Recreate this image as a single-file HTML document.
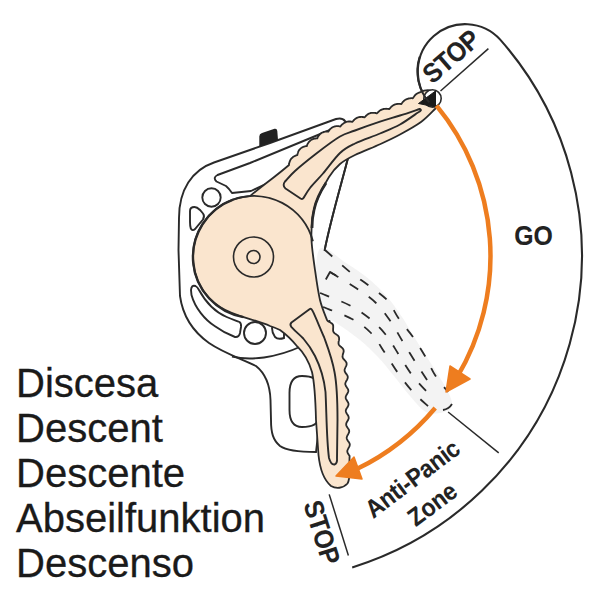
<!DOCTYPE html>
<html><head><meta charset="utf-8"><style>
html,body{margin:0;padding:0;background:#fff;width:600px;height:600px;overflow:hidden}
svg{display:block}
</style></head><body>
<svg width="600" height="600" viewBox="0 0 600 600">
<rect width="600" height="600" fill="#fff"/>
<path d="M429.2 102.4 A47.4 47.4 0 0 1 500.2 39.6 A326.5 326.5 0 0 1 352.2 567.4" fill="none" stroke="#2a2a2a" stroke-width="2.1"/>
<path d="M440.5 91.0 L488.4 48.6" stroke="#2a2a2a" stroke-width="1.5"/>
<path d="M448.1 412.0 L498.7 452.8" stroke="#2a2a2a" stroke-width="1.5"/>
<path d="M329.2 494.4 L348.4 555.5" stroke="#2a2a2a" stroke-width="1.5"/>
<path d="M214 162.5 L270 143 L336 119 C341 117.5 345 119 346.5 124 L348 158 C343 178 330 222 324.5 251 L330 330 L316 452 C300 452 287 451 280 446 C273 440 271 433 271 420 L270.5 400 C270 385 266 374 256 366 C245 360 225 354 209 343 C195 333 183 318 180 296 L178.5 250 L179 218 C179 190 192 170 214 162.5 Z" fill="#fff" stroke="#2a2a2a" stroke-width="1.9"/>
<path d="M330 130 L250 163 L217.5 175 Q212.5 177.5 216.5 181.5 L226 186 Q229 188.5 232 193 L251 191 L300 168 Z" fill="#fff" stroke="#2a2a2a" stroke-width="1.9" stroke-linejoin="round"/>
<circle cx="211.5" cy="197.5" r="9.2" fill="#fff" stroke="#2a2a2a" stroke-width="1.9"/>
<path d="M190 211 Q190 207 194.5 207 Q197 207 200 210 L203 213.5 Q205 216 203 219.5 L195 229 Q192.5 231.5 190.8 228.5 Q190 226 190 222 Z" fill="#fff" stroke="#2a2a2a" stroke-width="1.9"/>
<path d="M191 290 Q191.5 284.5 195.5 286 Q197.5 287 199 290 C205 301 215 312 226.7 317 C232 319.5 236 320.5 239.5 322 Q241.5 323.5 241 327 L240 333 Q239 337.5 235 337 C227 334 220 330 215 326.3 C205 320 195 308 191.5 295 Z" fill="#fff" stroke="#2a2a2a" stroke-width="1.9"/>
<circle cx="255" cy="333" r="11" fill="#fff" stroke="#2a2a2a" stroke-width="1.9"/>
<path d="M272 328 Q273 325 277 326 L284 330 L284 338 Q278 340 275 337 Q272 333 272 328 Z" fill="#fff" stroke="#2a2a2a" stroke-width="1.9"/>
<path d="M302 376 C312 376 318 379 318 386 L318 418 C318 424 312 427 302 427 C294 427 289.5 422 289.5 410 L289.5 393 C289.5 382 294 376 302 376 Z" fill="#fff" stroke="#2a2a2a" stroke-width="1.9"/>
<path d="M232 356.5 C250 361 276 358 302 346" fill="none" stroke="#2a2a2a" stroke-width="1.9"/>
<path d="M259.3 136.5 Q259.3 133.8 262 133 L274.5 128.8 Q277 128.2 277.3 131 L278 140 L259.3 146.5 Z" fill="#222"/>
<path d="M319.0 250.0 C323.7 241.8 337.5 258.0 346.0 263.0 C354.5 268.0 363.0 274.2 370.0 280.0 C377.0 285.8 382.7 291.8 388.0 298.0 C393.3 304.2 397.3 310.0 402.0 317.0 C406.7 324.0 410.2 330.7 416.0 340.0 C421.8 349.3 431.3 363.7 437.0 373.0 C442.7 382.3 447.7 390.2 450.0 396.0 C452.3 401.8 452.7 405.2 451.0 408.0 C449.3 410.8 444.2 412.3 440.0 413.0 C435.8 413.7 431.0 414.8 426.0 412.0 C421.0 409.2 415.3 402.0 410.0 396.0 C404.7 390.0 399.3 382.5 394.0 376.0 C388.7 369.5 383.7 363.0 378.0 357.0 C372.3 351.0 367.2 345.8 360.0 340.0 C352.8 334.2 342.0 326.7 335.0 322.0 C328.0 317.3 320.7 324.0 318.0 312.0 C315.3 300.0 314.3 258.2 319.0 250.0 Z" fill="#f3f3f3"/>
<path d="M325.0 250.0 C329.2 253.7 342.8 266.2 350.0 272.0 C357.2 277.8 361.8 280.3 368.0 285.0 C374.2 289.7 381.8 294.3 387.0 300.0 C392.2 305.7 394.7 312.8 399.0 319.0 C403.3 325.2 408.7 330.8 413.0 337.0 C417.3 343.2 421.3 349.7 425.0 356.0 C428.7 362.3 431.2 369.0 435.0 375.0 C438.8 381.0 445.8 389.2 448.0 392.0" fill="none" stroke="#2a2a2a" stroke-width="1.8" stroke-dasharray="10 13"/>
<path d="M330.0 272.0 C334.3 274.7 348.3 282.8 356.0 288.0 C363.7 293.2 370.2 297.3 376.0 303.0 C381.8 308.7 386.5 315.5 391.0 322.0 C395.5 328.5 398.8 335.2 403.0 342.0 C407.2 348.8 411.7 356.2 416.0 363.0 C420.3 369.8 426.8 379.7 429.0 383.0" fill="none" stroke="#2a2a2a" stroke-width="1.8" stroke-dasharray="10 13"/>
<path d="M320.0 293.0 C324.8 295.0 340.8 300.8 349.0 305.0 C357.2 309.2 362.8 313.0 369.0 318.0 C375.2 323.0 381.0 328.8 386.0 335.0 C391.0 341.2 394.7 348.3 399.0 355.0 C403.3 361.7 407.3 368.8 412.0 375.0 C416.7 381.2 424.5 389.2 427.0 392.0" fill="none" stroke="#2a2a2a" stroke-width="1.8" stroke-dasharray="10 13"/>
<path d="M323.0 307.0 C327.8 309.0 344.0 314.7 352.0 319.0 C360.0 323.3 365.5 327.3 371.0 333.0 C376.5 338.7 380.5 346.3 385.0 353.0 C389.5 359.7 393.3 366.5 398.0 373.0 C402.7 379.5 407.7 386.2 413.0 392.0 C418.3 397.8 427.2 405.3 430.0 408.0" fill="none" stroke="#2a2a2a" stroke-width="1.8" stroke-dasharray="10 13"/>
<path d="M443 410 Q449 409 452 404" fill="none" stroke="#2a2a2a" stroke-width="1.8"/>
<path d="M348 158 C343 178 330 222 324.5 251" fill="none" stroke="#2a2a2a" stroke-width="1.9"/>
<path d="M325.8 279.5 L330 272 L336 275.5" fill="none" stroke="#2a2a2a" stroke-width="1.8" stroke-linejoin="round"/>
<path d="M193 257 A61 61 0 0 1 250 196.1 C262 186 275 177 289 165 L289.0 165.0 L289.0 164.3 L289.1 163.8 L289.2 163.2 L289.4 162.7 L289.5 162.2 L289.7 161.7 L289.9 161.2 L290.1 160.7 L290.3 160.2 L290.5 159.8 L290.8 159.4 L291.1 158.9 L291.4 158.5 L291.8 158.2 L292.1 157.8 L292.5 157.5 L292.9 157.1 L293.3 156.8 L293.7 156.5 L294.2 156.3 L294.7 156.0 L295.2 155.8 L295.7 155.6 L296.2 155.4 L296.8 155.2 L297.4 155.1 L297.4 154.4 L297.6 153.8 L297.7 153.3 L297.9 152.8 L298.1 152.2 L298.3 151.7 L298.5 151.2 L298.7 150.8 L299.0 150.3 L299.3 149.9 L299.6 149.5 L300.0 149.1 L300.3 148.7 L300.7 148.4 L301.1 148.1 L301.6 147.8 L302.0 147.5 L302.5 147.2 L303.0 147.0 L303.5 146.8 L304.0 146.6 L304.5 146.5 L305.1 146.3 L305.6 146.2 L306.2 146.1 L306.8 146.1 L307.0 145.5 L307.2 144.9 L307.4 144.4 L307.6 143.9 L307.9 143.4 L308.2 143.0 L308.5 142.5 L308.8 142.1 L309.1 141.7 L309.5 141.3 L309.9 141.0 L310.3 140.6 L310.6 140.3 L311.1 140.0 L311.5 139.8 L312.0 139.5 L312.4 139.3 L312.9 139.1 L313.4 138.9 L313.9 138.8 L314.4 138.7 L315.0 138.5 L315.5 138.5 L316.1 138.4 L316.7 138.4 L317.3 138.4 L317.5 137.8 L317.7 137.2 L318.0 136.7 L318.3 136.3 L318.6 135.8 L318.9 135.4 L319.3 135.0 L319.6 134.6 L320.0 134.2 L320.4 133.8 L320.8 133.5 L321.2 133.2 L321.6 132.9 L322.0 132.7 L322.5 132.5 L323.0 132.3 L323.5 132.1 L324.0 131.9 L324.5 131.8 L325.0 131.7 L325.5 131.6 L326.1 131.6 L326.7 131.5 L327.2 131.5 L327.8 131.6 L328.4 131.6 L328.7 131.0 L329.0 130.5 L329.3 130.1 L329.7 129.6 L330.1 129.2 L330.4 128.8 L330.8 128.5 L331.3 128.1 L331.7 127.8 L332.1 127.5 L332.6 127.3 L333.0 127.0 L333.5 126.8 L334.0 126.7 L334.5 126.5 L335.0 126.4 L335.5 126.3 L336.0 126.2 L336.5 126.2 L337.0 126.1 L337.6 126.2 L338.1 126.2 L338.7 126.2 L339.3 126.3 L339.8 126.4 L340.4 126.5 L340.7 126.0 L341.1 125.5 L341.5 125.1 L341.9 124.7 L342.3 124.3 L342.6 124.0 L343.1 123.7 L343.5 123.4 L343.9 123.1 L344.3 122.8 L344.8 122.6 L345.2 122.4 L345.7 122.2 L346.1 122.0 L346.6 121.8 L347.1 121.7 L347.6 121.6 L348.1 121.6 L348.6 121.5 L349.2 121.5 L349.7 121.5 L350.3 121.5 L350.8 121.6 L351.4 121.6 L352.0 121.8 L352.5 121.8 L352.9 121.3 L353.2 120.8 L353.6 120.4 L354.0 120.0 L354.4 119.6 L354.8 119.3 L355.2 118.9 L355.6 118.6 L356.0 118.4 L356.5 118.1 L356.9 117.9 L357.4 117.7 L357.9 117.5 L358.3 117.3 L358.8 117.2 L359.3 117.1 L359.8 117.0 L360.3 117.0 L360.9 116.9 L361.4 116.9 L361.9 116.9 L362.5 117.0 L363.0 117.0 L363.6 117.1 L364.2 117.3 L364.7 117.3 L365.1 116.8 L365.5 116.4 L365.9 115.9 L366.3 115.5 L366.7 115.2 L367.1 114.8 L367.5 114.5 L367.9 114.2 L368.4 114.0 L368.8 113.7 L369.3 113.5 L369.8 113.3 L370.3 113.2 L370.7 113.0 L371.2 112.9 L371.7 112.8 L372.3 112.8 L372.8 112.8 L373.3 112.8 L373.8 112.8 L374.4 112.8 L374.9 112.9 L375.5 113.0 L376.0 113.1 L376.6 113.3 L377.1 113.3 L377.5 112.8 L377.9 112.4 L378.3 112.0 L378.7 111.6 L379.1 111.3 L379.5 110.9 L379.9 110.6 L380.4 110.3 L380.8 110.1 L381.2 109.8 L381.7 109.6 L382.1 109.4 L382.6 109.3 L383.1 109.1 L383.6 109.0 L384.1 108.9 L384.5 108.8 L385.1 108.8 L385.6 108.8 L386.1 108.7 L386.6 108.8 L387.2 108.8 L387.7 108.8 L388.3 108.9 L388.9 109.0 L389.4 109.0 L389.7 108.5 L390.1 108.1 L390.5 107.6 L390.8 107.2 L391.2 106.9 L391.6 106.5 L392.0 106.2 L392.4 105.8 L392.8 105.5 L393.3 105.3 L393.7 105.0 L394.1 104.8 L394.6 104.6 L395.1 104.4 L395.5 104.3 L396.0 104.2 L396.5 104.1 L397.0 104.0 L397.5 103.9 L398.1 103.9 L398.6 103.9 L399.1 103.9 L399.7 103.9 L400.3 103.9 L400.9 104.0 L401.4 104.0 L401.7 103.5 L402.0 103.0 L402.4 102.5 L402.7 102.1 L403.1 101.7 L403.5 101.3 L403.8 101.0 L404.2 100.6 L404.6 100.3 L405.0 100.0 L405.4 99.8 L405.9 99.5 L406.3 99.3 L406.8 99.1 L407.2 98.9 L407.7 98.8 L408.2 98.6 L408.7 98.5 L409.2 98.4 L409.7 98.3 L410.2 98.3 L410.8 98.2 L411.3 98.2 L411.9 98.2 L412.5 98.3 L413.0 98.2 L413.3 97.6 L413.6 97.1 L413.9 96.7 L414.2 96.2 L414.6 95.8 L414.9 95.4 L415.3 95.0 L415.6 94.7 L416.0 94.3 L416.4 94.0 L416.8 93.7 L417.3 93.4 L417.7 93.2 L418.1 93.0 L418.6 92.8 L419.1 92.6 L419.6 92.4 L420.1 92.3 C428 88 436 90 437 98 C438 103 437 107 435 109 C432.7 111.2 426.8 117.8 421.0 122.0 C415.2 126.2 406.8 130.8 400.0 134.5 C393.2 138.2 387.5 140.8 380.0 144.2 C372.5 147.6 361.7 151.7 355.0 155.0 C348.3 158.3 344.3 160.3 340.0 164.0 C335.7 167.7 332.8 171.0 329.0 177.0 C325.2 183.0 319.8 193.2 317.0 200.0 C314.2 206.8 313.4 211.3 312.5 218.0 C311.6 224.7 311.1 231.3 311.5 240.0 C311.9 248.7 313.6 260.0 315.0 270.0 C316.4 280.0 318.0 291.7 320.0 300.0 C322.0 308.3 325.8 316.7 327.0 320.0 L327.0 320.0 L327.3 320.4 L327.6 320.8 L328.0 321.2 L328.5 321.5 L329.0 321.8 L329.5 322.0 L330.0 322.3 L330.5 322.6 L331.0 322.9 L331.5 323.2 L331.9 323.5 L332.3 323.9 L332.6 324.3 L332.9 324.8 L333.0 325.2 L333.2 325.7 L333.2 326.3 L333.2 326.9 L333.2 327.5 L333.2 328.0 L333.1 328.6 L333.1 329.2 L333.1 329.8 L333.1 330.4 L333.1 330.9 L333.3 331.4 L333.5 331.9 L333.7 332.3 L334.0 332.7 L334.4 333.1 L334.8 333.4 L335.3 333.8 L335.8 334.1 L336.3 334.4 L336.8 334.7 L337.3 335.1 L337.7 335.4 L338.1 335.8 L338.4 336.2 L338.7 336.7 L338.9 337.1 L339.0 337.6 L339.1 338.2 L339.1 338.7 L339.1 339.3 L339.0 339.9 L338.9 340.5 L338.8 341.0 L338.6 341.6 L338.6 342.2 L338.5 342.8 L338.5 343.3 L338.6 343.8 L338.7 344.3 L338.9 344.7 L339.2 345.2 L339.6 345.6 L339.9 346.0 L340.4 346.4 L340.8 346.8 L341.3 347.1 L341.7 347.5 L342.2 347.9 L342.6 348.3 L342.9 348.7 L343.2 349.2 L343.4 349.6 L343.6 350.1 L343.6 350.6 L343.7 351.2 L343.6 351.7 L343.5 352.3 L343.3 352.8 L343.2 353.4 L343.0 354.0 L342.8 354.6 L342.7 355.1 L342.6 355.7 L342.5 356.2 L342.5 356.7 L342.6 357.2 L342.8 357.7 L343.0 358.1 L343.2 358.6 L343.6 359.0 L344.0 359.5 L344.4 359.9 L344.8 360.4 L345.2 360.8 L345.6 361.3 L345.9 361.7 L346.2 362.2 L346.4 362.7 L346.6 363.2 L346.6 363.7 L346.6 364.2 L346.6 364.7 L346.4 365.3 L346.2 365.8 L346.0 366.4 L345.7 366.9 L345.4 367.4 L345.2 368.0 L345.0 368.5 L344.8 369.0 L344.6 369.5 L344.6 370.0 L344.6 370.5 L344.6 371.0 L344.8 371.5 L345.0 372.0 L345.3 372.5 L345.6 373.0 L345.9 373.5 L346.3 373.9 L346.7 374.4 L347.0 374.9 L347.3 375.4 L347.5 375.9 L347.7 376.4 L347.8 376.9 L347.8 377.4 L347.7 377.9 L347.6 378.4 L347.4 378.9 L347.2 379.4 L346.9 380.0 L346.6 380.5 L346.3 381.0 L346.0 381.5 L345.8 382.0 L345.6 382.5 L345.4 383.0 L345.3 383.5 L345.3 384.0 L345.3 384.5 L345.5 385.0 L345.7 385.5 L345.9 386.0 L346.2 386.5 L346.6 387.0 L346.9 387.5 L347.2 388.0 L347.6 388.5 L347.8 388.9 L348.1 389.4 L348.2 389.9 L348.3 390.4 L348.3 390.9 L348.3 391.4 L348.1 392.0 L347.9 392.5 L347.7 393.0 L347.4 393.5 L347.1 394.0 L346.8 394.5 L346.5 395.0 L346.2 395.5 L346.0 396.0 L345.8 396.5 L345.7 397.0 L345.7 397.5 L345.7 398.0 L345.8 398.5 L346.0 399.0 L346.3 399.5 L346.6 400.0 L346.9 400.5 L347.2 401.0 L347.5 401.5 L347.8 402.0 L348.1 402.5 L348.3 403.0 L348.5 403.5 L348.5 404.0 L348.5 404.5 L348.5 405.0 L348.3 405.5 L348.1 406.0 L347.9 406.5 L347.6 407.0 L347.3 407.5 L346.9 408.0 L346.6 408.5 L346.4 409.0 L346.1 409.5 L345.9 410.0 L345.8 410.5 L345.8 411.0 L345.9 411.5 L346.0 412.0 L346.2 412.5 L346.4 413.0 L346.7 413.5 L347.0 414.0 L347.4 414.5 L347.7 415.0 L348.0 415.5 L348.3 416.0 L348.5 416.5 L348.6 417.0 L348.7 417.5 L348.7 418.0 L348.7 418.5 L348.5 419.0 L348.3 419.5 L348.1 420.0 L347.8 420.5 L347.5 421.0 L347.2 421.5 L346.9 422.0 L346.6 422.5 L346.4 423.0 L346.3 423.5 L346.2 424.0 L346.2 424.5 L346.2 425.0 L346.3 425.5 L346.5 426.0 L346.8 426.5 L347.1 427.0 L347.4 427.5 L347.8 428.0 L348.1 428.5 L348.4 428.9 L348.7 429.4 L348.9 429.9 L349.1 430.4 L349.2 430.9 L349.2 431.4 L349.2 431.9 L349.0 432.4 L348.8 432.9 L348.6 433.4 L348.3 433.9 L348.0 434.5 L347.7 435.0 L347.4 435.5 L347.2 436.0 L347.0 436.5 L346.8 437.0 L346.7 437.5 L346.7 438.0 L346.8 438.5 L346.9 439.0 L347.1 439.5 L347.4 440.0 L347.7 440.5 L348.0 441.0 L348.3 441.4 L348.7 441.9 L349.0 442.4 L349.3 442.9 L349.5 443.4 L349.7 443.9 L349.8 444.4 L349.8 444.9 L349.7 445.4 L349.6 445.9 L349.4 446.4 L349.2 446.9 L348.9 447.4 L348.6 447.9 L348.3 448.5 L348.0 449.0 L347.8 449.5 L347.6 450.0 L347.4 450.5 L347.3 451.0 L347.3 451.5 L347.4 452.0 L347.5 452.5 L347.7 453.0 L348.0 453.5 L348.3 454.0 L348.6 454.5 L348.9 454.9 L349.3 455.4 L349.6 455.9 C349 468 351 478 347.5 483.5 C343 488.5 336 489 331 486 C324 480 320 470 318.5 455 L316 420 C315.5 400 315 385 312 372 C309 362 304 353 297.5 346.7 C292 340 287 335 280 330 C276 328 273 327 270 326 C255 319 235 317 220 307 C205 297 193 280 193 257 Z" fill="#fae5ce" stroke="#2a2a2a" stroke-width="1.8" stroke-linejoin="round"/>
<path d="M233.1 199.7 A61 61 0 0 1 312.9 241.2" fill="none" stroke="#2a2a2a" stroke-width="1.9"/>
<path d="M326 183 C320 192 316 200 314 210 C312.5 216 312 222 312 228" fill="none" stroke="#2a2a2a" stroke-width="2.8"/>
<path d="M243.4 317.1 A61 61 0 0 1 233.1 199.7" fill="none" stroke="#2a2a2a" stroke-width="2.4"/>
<circle cx="253.5" cy="257" r="20" fill="none" stroke="#2a2a2a" stroke-width="1.6"/>
<circle cx="253.5" cy="257" r="6.5" fill="none" stroke="#2a2a2a" stroke-width="1.6"/>
<path d="M419.5 109.0 C416.2 110.1 406.6 113.4 400.0 115.5 C393.4 117.6 387.5 119.2 380.0 121.7 C372.5 124.2 361.7 128.0 355.0 130.5 C348.3 133.0 346.3 132.8 340.0 136.5 C333.7 140.2 324.5 147.2 317.0 153.0 C309.5 158.8 300.3 166.2 295.0 171.0 C289.7 175.8 286.7 179.8 285.0 181.5 Q282 185.5 285.5 188.5 L300.5 198.5 Q302.5 199.5 303.5 198 C304.6 196.3 306.8 192.1 310.0 188.0 C313.2 183.9 318.0 179.3 323.0 173.5 C328.0 167.7 334.7 158.0 340.0 153.0 C345.3 148.0 348.3 146.8 355.0 143.5 C361.7 140.2 372.5 136.7 380.0 133.5 C387.5 130.3 393.7 128.0 400.0 124.5 C406.3 121.0 415.0 114.5 418.0 112.5 Q423 110 419.5 109 Z" fill="none" stroke="#2a2a2a" stroke-width="1.9" stroke-linejoin="round"/>
<path d="M309.8 309 L291.5 322.5 Q289.5 324.5 291.3 326.8 C296 332 300 335 303.3 338.5 C308 344 312 350 315 356 C320 366 324 378 325.5 392 C326.5 410 326.5 440 329 458 Q331 465 334.5 464.5 Q337.5 463.5 337 458 L337.5 420 C337.5 400 337 385 334.5 372 C332 358 328 348 324 337 C320 328 316 318 313 311.7 Q311.5 308 309.8 309 Z" fill="none" stroke="#2a2a2a" stroke-width="1.9" stroke-linejoin="round"/>
<circle cx="432.5" cy="98.5" r="8.7" fill="#fff" stroke="#2a2a2a" stroke-width="1.6"/>
<path d="M418.5 103.5 L435.5 91 L435.5 107 Z" fill="#1a1a1a" stroke="#1a1a1a" stroke-width="1" stroke-linejoin="round"/>
<path d="M436.5 105.6 A236.5 236.5 0 0 1 456.7 377.8" fill="none" stroke="#ee7d1f" stroke-width="4.5"/>
<path d="M446 392 L450 366 L470 379 Z" fill="#ee7d1f" stroke="#ee7d1f" stroke-width="1.5" stroke-linejoin="round"/>
<path d="M435.2 408.0 A236.5 236.5 0 0 1 357.7 468.6" fill="none" stroke="#ee7d1f" stroke-width="4.5"/>
<path d="M336 476 L354 457 L362 479 Z" fill="#ee7d1f" stroke="#ee7d1f" stroke-width="1.5" stroke-linejoin="round"/>
<path d="M429.2 102.4 A47.4 47.4 0 0 1 419.7 56.8" fill="none" stroke="#2a2a2a" stroke-width="2.1"/>
<text transform="translate(533.5 245) scale(0.87 1)" font-size="28.5" text-anchor="middle" font-family="Liberation Sans" font-weight="bold" fill="#222" stroke="#222" stroke-width="0.1">GO</text>
<text transform="translate(457 63.5) rotate(-41) scale(0.92 1)" font-size="27" letter-spacing="-0.6" text-anchor="middle" font-family="Liberation Sans" font-weight="bold" fill="#222" stroke="#222" stroke-width="0.1">STOP</text>
<text transform="translate(313 535) rotate(72.5) scale(0.92 1)" font-size="27" letter-spacing="-0.6" text-anchor="middle" font-family="Liberation Sans" font-weight="bold" fill="#222" stroke="#222" stroke-width="0.1">STOP</text>
<text transform="translate(417.5 485.5) rotate(-37) scale(0.92 1)" font-size="25" letter-spacing="-0.3" text-anchor="middle" font-family="Liberation Sans" font-weight="bold" fill="#222" stroke="#222" stroke-width="0.1">Anti-Panic</text>
<text transform="translate(437.5 511) rotate(-37) scale(0.92 1)" font-size="25" letter-spacing="-0.2" text-anchor="middle" font-family="Liberation Sans" font-weight="bold" fill="#222" stroke="#222" stroke-width="0.1">Zone</text>
<text x="16" y="396.8" font-size="40" font-family="Liberation Sans" fill="#1a1a1a" stroke="#1a1a1a" stroke-width="0.3">Discesa</text>
<text x="16" y="441.9" font-size="40" font-family="Liberation Sans" fill="#1a1a1a" stroke="#1a1a1a" stroke-width="0.3">Descent</text>
<text x="16" y="486.9" font-size="40" font-family="Liberation Sans" fill="#1a1a1a" stroke="#1a1a1a" stroke-width="0.3">Descente</text>
<text x="16" y="532.0" font-size="40" font-family="Liberation Sans" fill="#1a1a1a" stroke="#1a1a1a" stroke-width="0.3">Abseilfunktion</text>
<text x="16" y="577.0" font-size="40" font-family="Liberation Sans" fill="#1a1a1a" stroke="#1a1a1a" stroke-width="0.3">Descenso</text>
</svg>
</body></html>
